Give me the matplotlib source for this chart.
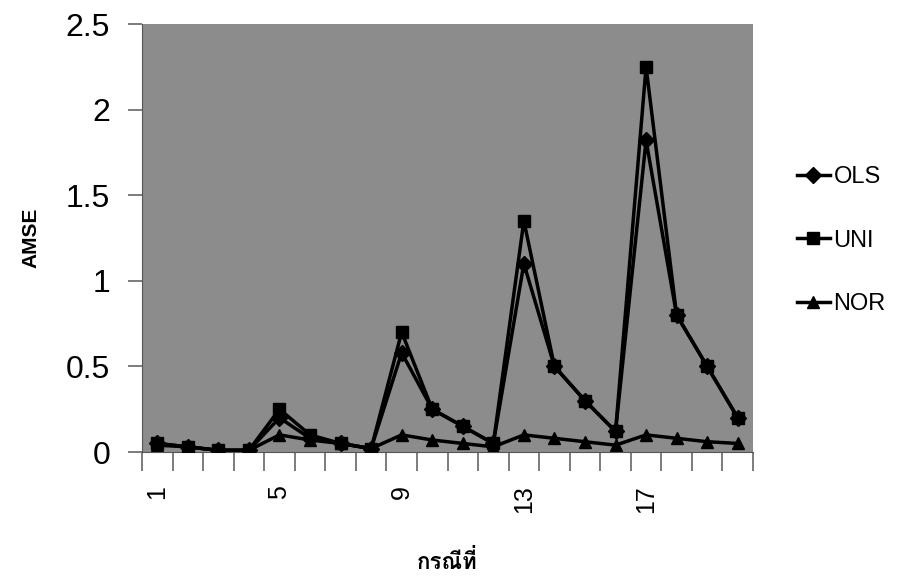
import matplotlib
matplotlib.use("Agg")
import matplotlib.pyplot as plt
from matplotlib import font_manager
import numpy as np

# ---- data ----
cases = list(range(1, 21))
ols = [0.05, 0.03, 0.01, 0.01, 0.20, 0.08, 0.05, 0.02, 0.58, 0.25, 0.15, 0.05,
       1.10, 0.50, 0.30, 0.12, 1.82, 0.80, 0.50, 0.20]
uni = [0.05, 0.03, 0.01, 0.01, 0.25, 0.10, 0.05, 0.02, 0.70, 0.25, 0.15, 0.05,
       1.35, 0.50, 0.30, 0.12, 2.25, 0.80, 0.50, 0.20]
nor = [0.04, 0.03, 0.01, 0.01, 0.10, 0.07, 0.05, 0.02, 0.10, 0.07, 0.05, 0.03,
       0.10, 0.08, 0.06, 0.04, 0.10, 0.08, 0.06, 0.05]
series_names = ["OLS", "UNI", "NOR"]
x_labels = ["1", "5", "9", "13", "17"]
x_label_pos = [1, 5, 9, 13, 17]
y_ticks = [0, 0.5, 1, 1.5, 2, 2.5]
y_tick_labels = ["0", "0.5", "1", "1.5", "2", "2.5"]
x_title = "กรณีที่"
y_title = "AMSE"

# ---- find a font with Thai glyphs ----
thai_font = None
try:
    from fontTools.ttLib import TTFont
    for f in font_manager.fontManager.ttflist:
        try:
            tt = TTFont(f.fname, fontNumber=0, lazy=True)
            cmap = tt.getBestCmap()
            if cmap and 0x0E01 in cmap and 0x0E13 in cmap and 0x0E35 in cmap:
                thai_font = f.name
                break
        except Exception:
            continue
except Exception:
    pass

base = ["Liberation Sans", "DejaVu Sans"]
plt.rcParams["font.family"] = base

fig = plt.figure(figsize=(9.15, 5.81), dpi=100)
ax = fig.add_axes([142 / 915, 1 - 452 / 581, (753 - 142) / 915, (452 - 24) / 581])
ax.set_facecolor("#8c8c8c")

ax.plot(cases, ols, color="black", lw=2.5, marker="D", ms=8, label=series_names[0], zorder=3)
ax.plot(cases, uni, color="black", lw=2.5, marker="s", ms=8, label=series_names[1], zorder=4)
ax.plot(cases, nor, color="black", lw=2.5, marker="^", ms=8, label=series_names[2], zorder=2)

ax.set_xlim(0.5, 20.5)
ax.set_ylim(0, 2.5)
ax.set_yticks(y_ticks)
ax.set_yticklabels(y_tick_labels, fontsize=23)
ax.set_xticks(x_label_pos)
ax.set_xticklabels(x_labels, fontsize=18, rotation=90)
ax.tick_params(axis="x", length=0, pad=24)
ax.set_xticks(np.arange(0.5, 21, 1), minor=True)
ax.tick_params(axis="x", which="minor", length=14, width=1.2, color="#666666", direction="out")
ax.tick_params(axis="y", length=10, width=1.2, color="#666666", direction="out", pad=13)
for s in ax.spines.values():
    s.set_visible(False)
ax.spines["left"].set_visible(True)
ax.spines["left"].set_color("#555555")
ax.spines["bottom"].set_visible(True)
ax.spines["bottom"].set_color("#555555")

ax.set_ylabel(y_title, fontsize=15, fontweight="bold", labelpad=18)
xfam = [thai_font] + base if thai_font else base
ax.set_xlabel(x_title, fontsize=16, fontweight="bold", family=xfam, labelpad=26)

leg = fig.legend(loc="center left", bbox_to_anchor=(0.858, 0.586), frameon=False,
                 fontsize=17, labelspacing=1.75, handlelength=1.4, handletextpad=0.15,
                 borderpad=0)

fig.savefig("out.png", dpi=100)
